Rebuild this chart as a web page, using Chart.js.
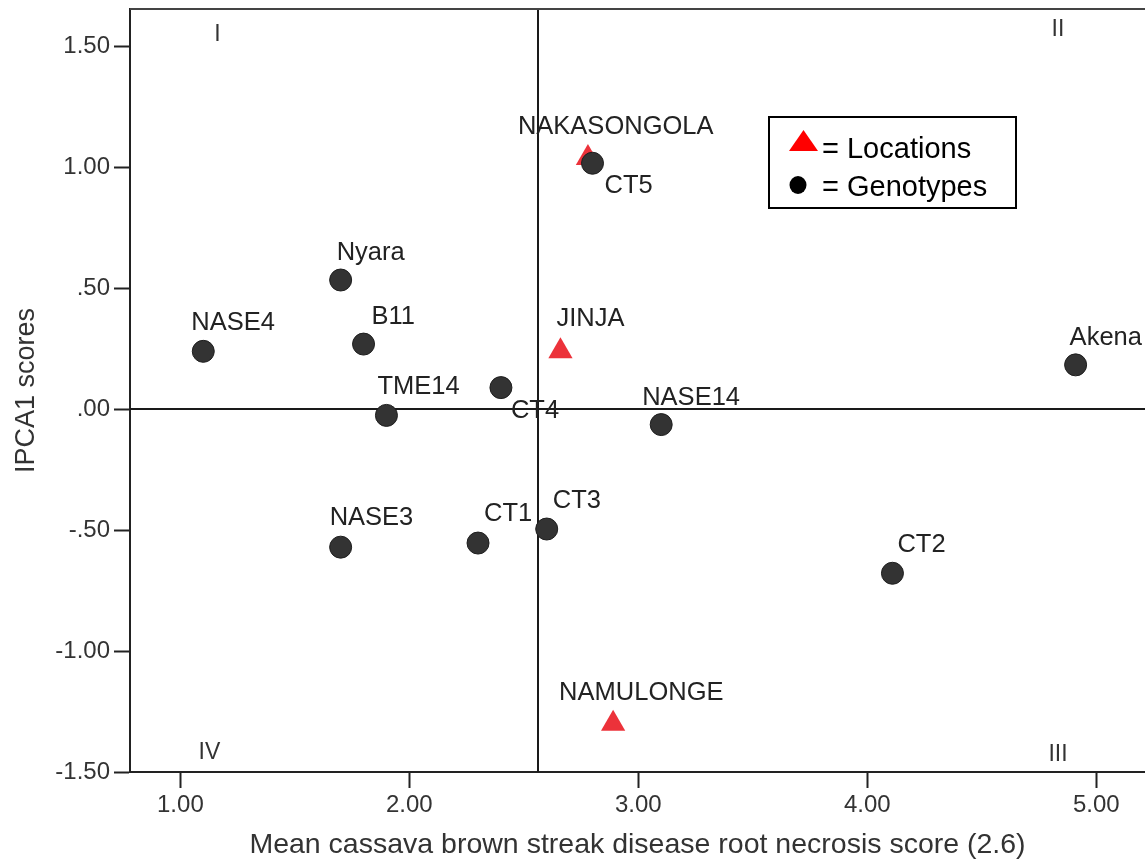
<!DOCTYPE html>
<html>
<head>
<meta charset="utf-8">
<script src="https://cdn.jsdelivr.net/npm/chart.js@4"></script>
<style>
  html, body { margin: 0; padding: 0; background: #fff; overflow: hidden; }
  canvas { display: block; }
</style>
</head>
<body>
<canvas id="c" width="1145" height="863"></canvas>
<script>
// ---- Data ----
const genotypeNames = ['NASE4', 'Nyara', 'B11', 'TME14', 'CT4', 'NASE14', 'NASE3', 'CT1', 'CT3', 'Akena', 'CT2', 'CT5'];
const genotypeMean  = [1.10, 1.70, 1.80, 1.90, 2.40, 3.10, 1.70, 2.30, 2.60, 4.91, 4.11, 2.80];
const genotypeIPCA1 = [0.24, 0.535, 0.27, -0.025, 0.09, -0.063, -0.57, -0.553, -0.495, 0.184, -0.678, 1.018];

const locationNames = ['NAKASONGOLA', 'JINJA', 'NAMULONGE'];
const locationMean  = [2.78, 2.66, 2.89];
const locationIPCA1 = [1.04, 0.24, -1.30];

const grandMean = 2.56;   // vertical reference line
const ipcaZero = 0;       // horizontal reference line

const xTickValues = [1, 2, 3, 4, 5];
const xTickLabels = ['1.00', '2.00', '3.00', '4.00', '5.00'];
const yTickValues = [-1.5, -1, -0.5, 0, 0.5, 1, 1.5];
const yTickLabels = ['-1.50', '-1.00', '-.50', '.00', '.50', '1.00', '1.50'];

const quadrantNames = ['I', 'II', 'III', 'IV'];

const xTitle = 'Mean cassava brown streak disease root necrosis score (2.6)';
const yTitle = 'IPCA1 scores';
const legendTexts = ['= Locations', '= Genotypes'];

// ---- Styling ----
const FONT = "'Liberation Sans', Arial, Helvetica, sans-serif";
const labelOffsets = {
  NASE4: [-12, -28], Nyara: [-4, -27], B11: [8, -27], TME14: [-9, -28],
  CT4: [10, 23], NASE14: [-19, -27], NASE3: [-11, -29], CT1: [6, -29],
  CT3: [6, -28], Akena: [-6, -27], CT2: [5, -28], CT5: [12, 23],
  NAKASONGOLA: [-70, -31], JINJA: [-4, -32], NAMULONGE: [-54, -31]
};
const quadrantPos = { I: [1.162, 1.549], II: [4.833, 1.572], III: [4.833, -1.43], IV: [1.127, -1.422] };

const toPts = (xs, ys) => xs.map((x, i) => ({ x: x, y: ys[i] }));

const refLines = {
  id: 'refLines',
  beforeDatasetsDraw(chart) {
    const { ctx, chartArea: a, scales: { x, y } } = chart;
    ctx.save();
    ctx.strokeStyle = '#1a1a1a';
    ctx.lineWidth = 2;
    const px = Math.round(x.getPixelForValue(grandMean));
    const py = Math.round(y.getPixelForValue(ipcaZero));
    ctx.beginPath();
    ctx.moveTo(px, a.top); ctx.lineTo(px, a.bottom);
    ctx.moveTo(a.left, py); ctx.lineTo(a.right, py);
    ctx.stroke();
    // top frame
    ctx.strokeStyle = '#444';
    ctx.beginPath();
    ctx.moveTo(a.left, a.top); ctx.lineTo(a.right, a.top);
    ctx.stroke();
    // quadrant labels
    ctx.font = '23px ' + FONT;
    ctx.fillStyle = '#333';
    ctx.textAlign = 'center';
    ctx.textBaseline = 'middle';
    quadrantNames.forEach(q => {
      const p = quadrantPos[q];
      ctx.fillText(q, x.getPixelForValue(p[0]), y.getPixelForValue(p[1]));
    });
    ctx.restore();
  }
};

const pointLabels = {
  id: 'pointLabels',
  afterDatasetsDraw(chart) {
    const ctx = chart.ctx;
    ctx.save();
    ctx.font = '25.5px ' + FONT;
    ctx.fillStyle = '#222';
    ctx.textAlign = 'left';
    ctx.textBaseline = 'middle';
    chart.data.datasets.forEach((ds, di) => {
      const meta = chart.getDatasetMeta(di);
      meta.data.forEach((el, i) => {
        const name = ds.names[i];
        const off = labelOffsets[name] || [0, -28];
        ctx.fillText(name, el.x + off[0], el.y + off[1]);
      });
    });
    ctx.restore();
  }
};

const customLegend = {
  id: 'customLegend',
  afterDraw(chart) {
    const ctx = chart.ctx;
    ctx.save();
    ctx.fillStyle = '#fff';
    ctx.fillRect(769, 117, 247, 91);
    ctx.strokeStyle = '#000';
    ctx.lineWidth = 2;
    ctx.strokeRect(769, 117, 247, 91);
    // triangle
    ctx.fillStyle = '#ff0000';
    ctx.beginPath();
    ctx.moveTo(803.5, 130); ctx.lineTo(818, 151); ctx.lineTo(789, 151); ctx.closePath();
    ctx.fill();
    // circle
    ctx.fillStyle = '#000';
    ctx.beginPath();
    ctx.ellipse(798, 185, 8.5, 9, 0, 0, Math.PI * 2);
    ctx.fill();
    ctx.font = '29px ' + FONT;
    ctx.textAlign = 'left';
    ctx.textBaseline = 'alphabetic';
    ctx.fillText(legendTexts[0], 822, 158);
    ctx.fillText(legendTexts[1], 822, 196);
    ctx.restore();
  }
};

new Chart(document.getElementById('c'), {
  type: 'scatter',
  data: {
    datasets: [
      {
        label: 'Genotypes',
        names: genotypeNames,
        data: toPts(genotypeMean, genotypeIPCA1),
        pointStyle: 'circle',
        pointRadius: 11,
        backgroundColor: '#333333',
        borderColor: '#1e1e1e',
        borderWidth: 1,
        order: 0
      },
      {
        label: 'Locations',
        names: locationNames,
        data: toPts(locationMean, locationIPCA1),
        pointStyle: 'triangle',
        pointRadius: 14,
        backgroundColor: 'rgb(236,50,58)',
        borderColor: 'rgb(236,50,58)',
        borderWidth: 0,
        order: 1
      }
    ]
  },
  options: {
    responsive: false,
    animation: false,
    devicePixelRatio: 1,
    layout: { autoPadding: false, padding: { top: 9, right: 0, left: 0, bottom: 0 } },
    plugins: { legend: { display: false }, tooltip: { enabled: false } },
    scales: {
      x: {
        type: 'linear',
        min: 0.78,
        max: 5.213,
        afterBuildTicks: s => { s.ticks = xTickValues.map(v => ({ value: v })); },
        afterFit: s => { s.height = 91; s.paddingLeft = 0; s.paddingRight = 0; },
        grid: { display: true, drawOnChartArea: false, drawTicks: true, tickLength: 16, tickWidth: 2, tickColor: '#222' },
        border: { display: true, width: 2, color: '#222' },
        ticks: {
          autoSkip: false, maxRotation: 0, padding: 3,
          color: '#333',
          font: { family: FONT, size: 24 },
          callback: (v, i) => xTickLabels[i]
        },
        title: {
          display: true, text: xTitle, color: '#333',
          font: { family: FONT, size: 28.5 },
          padding: { top: 0, bottom: 1 }
        }
      },
      y: {
        type: 'linear',
        min: -1.5,
        max: 1.656,
        afterBuildTicks: s => { s.ticks = yTickValues.map(v => ({ value: v })); },
        afterFit: s => { s.width = 130; s.paddingTop = 0; s.paddingBottom = 0; },
        grid: { display: true, drawOnChartArea: false, drawTicks: true, tickLength: 16, tickWidth: 2, tickColor: '#222' },
        border: { display: true, width: 2, color: '#222' },
        ticks: {
          autoSkip: false, padding: 4,
          color: '#333',
          font: { family: FONT, size: 24 },
          callback: (v, i) => yTickLabels[i]
        },
        title: {
          display: true, text: yTitle, color: '#333',
          font: { family: FONT, size: 27 },
          padding: { top: 10, bottom: 0 }
        }
      }
    }
  },
  plugins: [refLines, pointLabels, customLegend]
});
</script>
</body>
</html>
